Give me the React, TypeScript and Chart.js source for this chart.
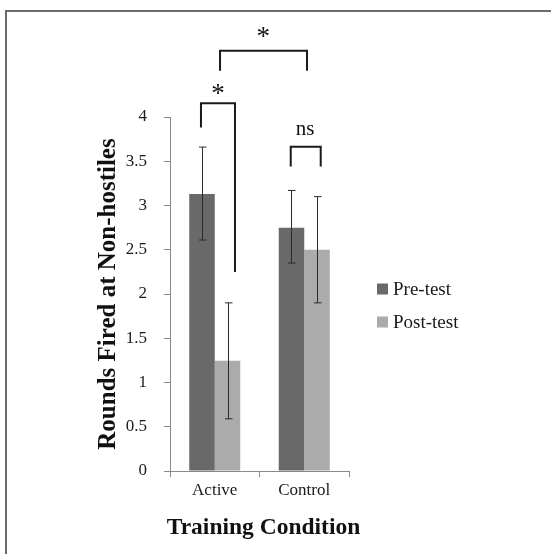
import React, { useEffect, useRef } from "react";
import { Chart, registerables } from "chart.js";

Chart.register(...registerables);

const categories = ["Active", "Control"];
const seriesNames = ["Pre-test", "Post-test"];
const preValues = [3.13, 2.75];
const postValues = [1.245, 2.5];
const preErrLow = [2.61, 2.35];
const preErrHigh = [3.66, 3.17];
const postErrLow = [0.59, 1.9];
const postErrHigh = [1.9, 3.1];
const yTicks = [0, 0.5, 1, 1.5, 2, 2.5, 3, 3.5, 4];
const yTitle = "Rounds Fired at Non-hostiles";
const xTitle = "Training Condition";

// significance annotations in data space (category index, value)
const bracketLabels = ["*", "*", "ns"];
const bracketLeftX = [-0.154, 0.059, 0.849];
const bracketRightX = [0.226, 1.031, 1.184];
const bracketTopY = [4.155, 4.75, 3.665];
const bracketLeftFootY = [3.88, 4.523, 3.44];
const bracketRightFootY = [2.25, 4.523, 3.44];
const bracketLabelX = [0.036, 0.541, 1.008];
const bracketLabelY = [4.25, 4.895, 3.86];

const SERIF = '"Liberation Serif", "Times New Roman", serif';
const PRE_COLOR = "#696969";
const POST_COLOR = "#ababab";

export default function App() {
  const ref = useRef<HTMLCanvasElement | null>(null);

  useEffect(() => {
    if (!ref.current) return;
    const errLow = [preErrLow, postErrLow];
    const errHigh = [preErrHigh, postErrHigh];

    const overlay = {
      id: "overlay",
      afterDatasetsDraw(chart: any) {
        const ctx = chart.ctx;
        const ys = chart.scales.y;
        const xs = chart.scales.x;
        ctx.save();
        // error bars
        ctx.strokeStyle = "#2a2a2a";
        ctx.lineWidth = 1;
        chart.data.datasets.forEach((_: any, di: number) => {
          const meta = chart.getDatasetMeta(di);
          meta.data.forEach((bar: any, i: number) => {
            const x = Math.round(bar.x) + 0.5;
            const yh = ys.getPixelForValue(errHigh[di][i]);
            const yl = ys.getPixelForValue(errLow[di][i]);
            ctx.beginPath();
            ctx.moveTo(x, yh);
            ctx.lineTo(x, yl);
            ctx.moveTo(x - 3.5, yh);
            ctx.lineTo(x + 4, yh);
            ctx.moveTo(x - 3.5, yl);
            ctx.lineTo(x + 4, yl);
            ctx.stroke();
          });
        });
        // brackets
        const catW = xs.getPixelForValue(1) - xs.getPixelForValue(0);
        const px = (v: number) => xs.getPixelForValue(0) + v * catW;
        ctx.strokeStyle = "#1a1a1a";
        ctx.lineWidth = 2;
        ctx.fillStyle = "#111";
        ctx.textAlign = "center";
        ctx.textBaseline = "middle";
        bracketLabels.forEach((lab, i) => {
          const x1 = px(bracketLeftX[i]);
          const x2 = px(bracketRightX[i]);
          const yt = ys.getPixelForValue(bracketTopY[i]);
          ctx.beginPath();
          ctx.moveTo(x1, ys.getPixelForValue(bracketLeftFootY[i]));
          ctx.lineTo(x1, yt);
          ctx.lineTo(x2, yt);
          ctx.lineTo(x2, ys.getPixelForValue(bracketRightFootY[i]));
          ctx.stroke();
          ctx.font = lab === "ns" ? `21px ${SERIF}` : `27px ${SERIF}`;
          ctx.fillText(lab, px(bracketLabelX[i]), ys.getPixelForValue(bracketLabelY[i]));
        });
        // x axis title (drawn here so it is not squeezed to the axis width)
        ctx.font = `bold 23.5px ${SERIF}`;
        ctx.fillStyle = "#111";
        ctx.textAlign = "center";
        ctx.textBaseline = "middle";
        ctx.fillText(xTitle, (xs.left + xs.right) / 2 + 4, xs.bottom - 26);
        // legend
        const lx = chart.chartArea.right + 28;
        const lyc = [289, 322];
        ctx.font = `19px ${SERIF}`;
        ctx.textAlign = "left";
        ctx.textBaseline = "middle";
        chart.data.datasets.forEach((ds: any, di: number) => {
          ctx.fillStyle = ds.backgroundColor;
          ctx.fillRect(lx, lyc[di] - 5.5, 11, 11);
          ctx.fillStyle = "#1a1a1a";
          ctx.fillText(ds.label, lx + 16, lyc[di] + 1);
        });
        ctx.restore();
      },
    };

    const chart = new Chart(ref.current, {
      type: "bar",
      data: {
        labels: categories,
        datasets: [
          { label: seriesNames[0], data: preValues, backgroundColor: PRE_COLOR },
          { label: seriesNames[1], data: postValues, backgroundColor: POST_COLOR },
        ],
      },
      options: {
        animation: false,
        responsive: false,
        devicePixelRatio: 1,
        layout: { padding: { top: 117, right: 202, bottom: 0, left: 0 } },
        datasets: { bar: { categoryPercentage: 0.57, barPercentage: 1 } },
        plugins: {
          legend: { display: false },
          tooltip: { enabled: false },
        },
        scales: {
          x: {
            afterFit: (s: any) => {
              s.height = 83;
            },
            grid: {
              display: true,
              drawOnChartArea: false,
              drawTicks: true,
              tickLength: 6,
              color: "#8a8a8a",
              offset: true,
            },
            border: { display: true, color: "#8a8a8a", width: 1 },
            ticks: {
              color: "#1a1a1a",
              padding: 3,
              font: { family: SERIF, size: 17 },
            },
            title: { display: false, text: xTitle },
          },
          y: {
            min: 0,
            max: 4,
            afterFit: (s: any) => {
              s.width = 170;
            },
            afterBuildTicks: (s: any) => {
              s.ticks = yTicks.map((v) => ({ value: v }));
            },
            grid: {
              display: true,
              drawOnChartArea: false,
              drawTicks: true,
              tickLength: 6,
              color: "#8a8a8a",
            },
            border: { display: true, color: "#8a8a8a", width: 1 },
            ticks: {
              color: "#1a1a1a",
              padding: 17,
              font: { family: SERIF, size: 17 },
              callback: (v: any) => String(v),
            },
            title: {
              display: true,
              text: yTitle,
              color: "#111",
              padding: { top: 94, bottom: 0 },
              font: { family: SERIF, size: 25, weight: "bold" },
            },
          },
        },
      },
      plugins: [overlay],
    });
    return () => chart.destroy();
  }, []);

  return (
    <div style={{ position: "absolute", left: 0, top: 0, width: 551, height: 554, background: "#fff" }}>
      <div
        style={{
          position: "absolute",
          left: 5,
          top: 10,
          width: 546,
          height: 544,
          borderTop: "2px solid #6b6b6b",
          borderLeft: "2px solid #6b6b6b",
          boxSizing: "border-box",
        }}
      />
      <canvas ref={ref} width={551} height={554} style={{ position: "absolute", left: 0, top: 0, width: 551, height: 554 }} />
    </div>
  );
}
